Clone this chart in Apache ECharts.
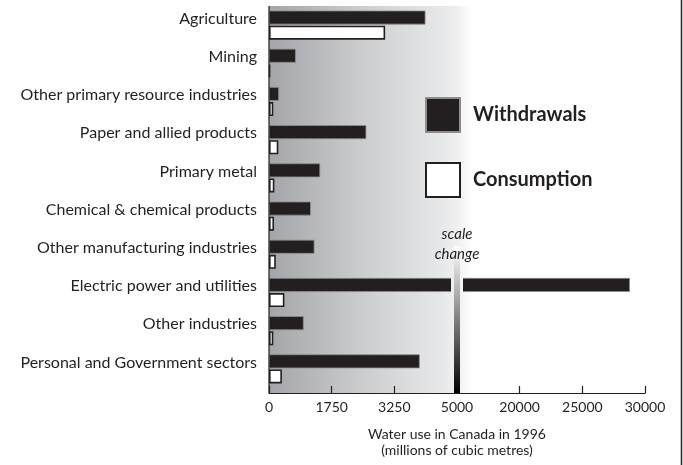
<!DOCTYPE html>
<html>
<head>
<meta charset="utf-8">
<script src="https://cdn.jsdelivr.net/npm/echarts@6/dist/echarts.min.js"></script>
<style>
  html, body { margin: 0; padding: 0; background: #fff; }
  #main { width: 683px; height: 465px; }
</style>
</head>
<body>
<div id="main"></div>
<script>
'use strict';

// water use in Canada, 1996 (millions of cubic metres)
var categories = [
  'Agriculture',
  'Mining',
  'Other primary resource industries',
  'Paper and allied products',
  'Primary metal',
  'Chemical & chemical products',
  'Other manufacturing industries',
  'Electric power and utilities',
  'Other industries',
  'Personal and Government sectors'
];
var withdrawals = [4120, 750, 280, 2580, 1430, 1170, 1270, 28800, 970, 3960];
var consumption = [3030, 30, 120, 260, 150, 140, 190, 430, 120, 360];
// the axis changes scale after 5000
var tickValues = [0, 1750, 3250, 5000, 20000, 25000, 30000];
var breakValue = 5000;

var ink = '#231f20';
var font = 'Lato';

// piecewise linear: value -> axis position (one unit per tick)
function toAxis(v) {
  for (var i = 1; i < tickValues.length; i++) {
    if (v <= tickValues[i]) {
      var a = tickValues[i - 1], b = tickValues[i];
      return i - 1 + (v - a) / (b - a);
    }
  }
  return tickValues.length - 1;
}

var chart = echarts.init(document.getElementById('main'));

var option = {
  animation: false,
  backgroundColor: '#fff',
  textStyle: { fontFamily: font, color: ink },
  grid: { left: 269, right: 38, top: 6, bottom: 77 },
  legend: {
    orient: 'vertical',
    left: 425,
    top: 97,
    padding: 0,
    icon: 'rect',
    itemWidth: 34,
    itemHeight: 34,
    itemGap: 29,
    textStyle: { fontSize: 20, fontWeight: 'bold', color: ink, fontFamily: font, padding: [0, 0, 0, 8] },
    data: ['Withdrawals', 'Consumption']
  },
  xAxis: {
    type: 'value',
    min: 0,
    max: tickValues.length - 1,
    interval: 1,
    offset: 5,
    splitLine: { show: false },
    axisLine: { show: true, lineStyle: { color: ink, width: 1.2 } },
    axisTick: { show: true, inside: true, length: 7, lineStyle: { color: ink, width: 1.2 } },
    axisLabel: {
      margin: 7,
      fontSize: 14,
      color: ink,
      fontFamily: font,
      formatter: function (v) { return String(tickValues[Math.round(v)]); }
    },
    name: 'Water use in Canada in 1996\n(millions of cubic metres)',
    nameLocation: 'middle',
    nameGap: 33,
    nameTextStyle: { fontSize: 14, lineHeight: 16, color: ink, fontFamily: font }
  },
  yAxis: {
    type: 'category',
    inverse: true,
    data: categories,
    axisLine: { show: false },
    axisTick: { show: false },
    axisLabel: { margin: 12, fontSize: 16, lineHeight: 13, color: ink, fontFamily: font, verticalAlign: 'bottom' }
  },
  series: [
    {
      name: 'Withdrawals',
      type: 'bar',
      barWidth: 14,
      barGap: '8%',
      itemStyle: { color: ink, borderColor: '#8d8d8d', borderWidth: 0.8 },
      data: withdrawals.map(toAxis)
    },
    {
      name: 'Consumption',
      type: 'bar',
      barWidth: 14,
      barGap: '8%',
      itemStyle: { color: '#fff', borderColor: ink, borderWidth: 1.6 },
      data: consumption.map(toAxis)
    }
  ]
};
chart.setOption(option);

// background shading, broken bar and scale-change marker
var x0 = chart.convertToPixel({ xAxisIndex: 0 }, 0);
var xb = chart.convertToPixel({ xAxisIndex: 0 }, toAxis(breakValue));
var plotTop = 6, axisY = 393;
var shadeW = xb + 15 - x0;
var shade = new echarts.graphic.LinearGradient(x0, 0, x0 + shadeW, 0, [
  { offset: 0, color: '#a3a5a8' },
  { offset: 0.5, color: '#cfd0d2' },
  { offset: 0.85, color: '#e7e8e9' },
  { offset: 0.93, color: '#f0f0f1' },
  { offset: 1, color: '#ffffff' }
], true);

var graphics = [
  { type: 'rect', z: -10, shape: { x: x0, y: plotTop, width: shadeW, height: axisY - plotTop }, style: { fill: shade } },
  { type: 'line', z: 10, shape: { x1: x0, y1: plotTop, x2: x0, y2: axisY }, style: { stroke: ink, lineWidth: 1.2 } },
  { type: 'line', z: 10, shape: { x1: 681.5, y1: 0, x2: 681.5, y2: 465 }, style: { stroke: ink, lineWidth: 1.5 } }
];

// gap in any withdrawal bar that passes the scale change
withdrawals.forEach(function (v, i) {
  if (v > breakValue) {
    var cy = chart.convertToPixel({ yAxisIndex: 0 }, categories[i]);
    graphics.push({
      type: 'rect', z: 20,
      shape: { x: xb - 6, y: cy - 16, width: 12, height: 16 },
      style: { fill: shade }
    });
  }
});

graphics.push({
  type: 'rect', z: 30,
  shape: { x: xb - 3, y: 246, width: 6, height: axisY - 246 },
  style: {
    fill: new echarts.graphic.LinearGradient(0, 0, 0, 1, [
      { offset: 0, color: '#ffffff' },
      { offset: 1, color: '#000000' }
    ])
  }
});
graphics.push({
  type: 'text', z: 31, x: xb, y: 244,
  style: {
    text: 'scale\nchange', fill: ink, font: 'italic 15px ' + font,
    align: 'center', verticalAlign: 'middle', lineHeight: 20
  }
});
chart.setOption({ graphic: graphics });
</script>
</body>
</html>
